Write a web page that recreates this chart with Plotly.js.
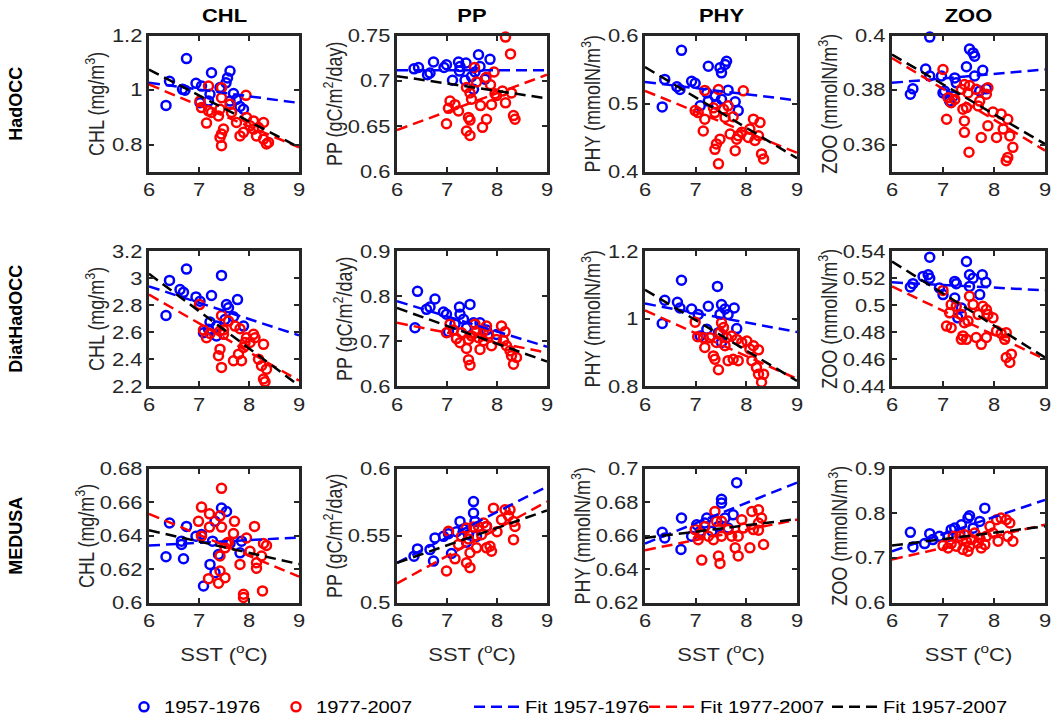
<!DOCTYPE html>
<html>
<head>
<meta charset="utf-8">
<script src="https://cdn.plot.ly/plotly-3.0.1.min.js"></script>
<style>html,body{margin:0;padding:0;background:#fff;}#chart{width:1055px;height:725px;}</style>
</head>
<body>
<div id="chart"></div>
<script>
// ---------------- DATA ----------------
const MODELS = ['HadOCC', 'DiatHadOCC', 'MEDUSA'];
const VARIABLES = ['CHL', 'PP', 'PHY', 'ZOO'];
const Y_TITLES = ['CHL (mg/m<sup>3</sup>)', 'PP (gC/m<sup>2</sup>/day)', 'PHY (mmolN/m<sup>3</sup>)', 'ZOO (mmolN/m<sup>3</sup>)'];
const X_TITLE = 'SST (<sup>o</sup>C)';
const SERIES_NAMES = ['1957-1976', '1977-2007', 'Fit 1957-1976', 'Fit 1977-2007', 'Fit 1957-2007'];
const SST_TICKS = [6, 7, 8, 9];
const FIT_SST = [6, 9];

// HadOCC CHL
const HAD_CHL_B_SST = [6.75,6.41,6.34,6.67,6.72,6.94,7.25,7.62,7.57,7.54,7.69,7.22,7.19,7.02,7.89,7.82,7.62,7.75,7.42,7.05];
const HAD_CHL_B_VAL = [1.116,1.033,0.944,1.003,1.0,1.025,1.064,1.07,1.045,1.027,0.988,0.985,0.96,0.954,0.93,0.94,0.96,0.966,1.01,1.015];
const HAD_CHL_R_SST = [7.19,7.45,7.45,7.94,7.02,7.05,7.19,7.42,7.62,7.65,7.39,7.15,7.75,7.49,7.45,7.42,7.45,7.82,7.89,8.09,8.29,8.19,8.09,8.02,8.15,8.29,8.39,8.35,7.95,7.25];
const HAD_CHL_R_VAL = [1.015,1.009,0.972,0.981,0.96,0.936,0.924,0.93,0.948,0.918,0.905,0.879,0.881,0.857,0.839,0.826,0.796,0.832,0.845,0.887,0.881,0.863,0.857,0.869,0.832,0.82,0.808,0.802,0.9,0.918];
const HAD_CHL_FIT_B = [1.027, 0.953], HAD_CHL_FIT_R = [1.021, 0.79], HAD_CHL_FIT_ALL = [1.076, 0.79];

// HadOCC PP
const HAD_PP_B_SST = [6.34,6.43,6.73,6.66,6.61,6.99,6.94,7.23,7.26,7.25,7.11,7.36,7.63,7.86,7.66,7.49,7.56,7.76,7.38,7.53];
const HAD_PP_B_VAL = [0.7135,0.715,0.721,0.709,0.707,0.718,0.715,0.721,0.716,0.711,0.701,0.701,0.729,0.724,0.716,0.705,0.71,0.702,0.72,0.691];
const HAD_PP_R_SST = [8.17,8.27,7.55,7.94,7.78,7.87,7.59,7.39,7.46,7.49,8.11,8.29,7.99,8.17,7.89,7.67,7.06,7.16,7.23,7.03,7.43,7.46,7.79,6.99,7.39,7.46,7.71,8.33,8.36,7.96];
const HAD_PP_R_VAL = [0.7485,0.730,0.715,0.71,0.704,0.696,0.699,0.693,0.687,0.68,0.689,0.687,0.684,0.676,0.674,0.673,0.678,0.674,0.667,0.67,0.66,0.657,0.658,0.653,0.645,0.64,0.649,0.662,0.658,0.686];
const HAD_PP_FIT_B = [0.712, 0.712], HAD_PP_FIT_R = [0.646, 0.707], HAD_PP_FIT_ALL = [0.7055, 0.681];

// HadOCC PHY
const HAD_PHY_B_SST = [6.72,6.39,6.34,6.63,6.69,6.92,6.99,7.25,7.48,7.51,7.61,7.58,7.64,7.38,7.25,7.09,7.51,7.78,7.84,7.22,7.41];
const HAD_PHY_B_VAL = [0.5786,0.5358,0.4954,0.525,0.521,0.533,0.53,0.5552,0.5528,0.5455,0.5625,0.5577,0.52,0.511,0.504,0.497,0.5066,0.503,0.49,0.516,0.4993];
const HAD_PHY_R_SST = [7.18,7.45,7.94,6.99,7.05,7.18,7.15,7.38,7.55,7.64,7.58,7.74,7.48,7.41,7.38,7.45,7.68,7.84,7.81,7.78,8.04,8.14,8.27,8.07,8.17,8.24,8.30,8.34,7.91,7.35];
const HAD_PHY_R_VAL = [0.5197,0.521,0.519,0.49,0.487,0.4774,0.46,0.487,0.492,0.497,0.48,0.481,0.448,0.441,0.433,0.4117,0.4555,0.453,0.448,0.4311,0.4506,0.4774,0.4725,0.463,0.446,0.453,0.4263,0.419,0.458,0.494];
const HAD_PHY_FIT_B = [0.532, 0.505], HAD_PHY_FIT_R = [0.519, 0.428], HAD_PHY_FIT_ALL = [0.554, 0.42];

// HadOCC ZOO
const HAD_ZOO_B_SST = [6.74,6.36,6.41,6.66,6.74,6.97,7.0,7.03,7.23,7.26,7.46,7.52,7.59,7.62,7.78,7.62,7.85,7.72,7.13,7.20];
const HAD_ZOO_B_VAL = [0.3995,0.3785,0.3805,0.3878,0.3852,0.3852,0.379,0.3797,0.3845,0.3827,0.3886,0.3951,0.3937,0.3925,0.3873,0.3852,0.3805,0.3797,0.376,0.3778];
const HAD_ZOO_R_SST = [7.0,7.10,7.16,7.23,7.07,7.36,7.42,7.52,7.49,7.46,7.42,7.42,7.51,7.65,7.72,7.69,7.88,7.85,7.88,7.75,7.98,8.14,8.27,8.18,8.05,8.31,8.37,8.27,8.24,7.39];
const HAD_ZOO_R_VAL = [0.3876,0.3772,0.3754,0.3766,0.3693,0.3803,0.3821,0.3817,0.379,0.3736,0.3687,0.3645,0.3572,0.3803,0.376,0.3742,0.3809,0.3785,0.3669,0.3626,0.372,0.3712,0.3693,0.3657,0.3626,0.3632,0.359,0.3553,0.3541,0.373];
const HAD_ZOO_FIT_B = [0.3827, 0.3876], HAD_ZOO_FIT_R = [0.3918, 0.3578], HAD_ZOO_FIT_ALL = [0.3931, 0.3602];

// DiatHadOCC CHL
const DIAT_CHL_B_SST = [6.75,6.41,6.34,6.62,6.69,6.94,7.25,7.45,7.55,7.59,7.77,7.69,7.22,7.09,7.19,7.35,7.89,7.52,7.02,7.35];
const DIAT_CHL_B_VAL = [3.068,2.984,2.724,2.916,2.896,2.862,2.872,3.021,2.805,2.781,2.842,2.715,2.676,2.597,2.622,2.573,2.646,2.695,2.83,2.646];
const DIAT_CHL_R_SST = [7.01,7.45,7.59,7.72,7.82,7.09,7.22,7.49,7.49,7.15,8.09,8.12,8.02,8.29,7.89,7.92,7.42,7.39,7.45,7.69,7.85,7.79,8.19,8.25,8.35,8.29,8.32,7.95,7.42];
const DIAT_CHL_R_VAL = [2.805,2.724,2.683,2.646,2.626,2.617,2.592,2.617,2.585,2.56,2.585,2.56,2.524,2.511,2.487,2.524,2.475,2.426,2.34,2.389,2.389,2.438,2.401,2.352,2.327,2.254,2.234,2.56,2.61];
const DIAT_CHL_FIT_B = [2.94, 2.577], DIAT_CHL_FIT_R = [2.879, 2.242], DIAT_CHL_FIT_ALL = [3.033, 2.205];

// DiatHadOCC PP
const DIAT_PP_B_SST = [6.41,6.36,6.76,6.66,6.59,6.93,6.99,7.25,7.26,7.46,7.03,7.39,7.66,7.79,7.99,7.16,7.53,7.33];
const DIAT_PP_B_VAL = [0.811,0.730,0.794,0.776,0.771,0.765,0.760,0.776,0.760,0.782,0.721,0.730,0.741,0.725,0.715,0.738,0.741,0.749];
const DIAT_PP_R_SST = [7.06,7.13,7.19,7.29,7.43,7.39,7.43,7.46,7.56,7.59,7.63,7.66,7.79,7.83,7.73,7.89,7.99,8.09,8.16,8.13,8.19,8.26,8.29,8.33,8.39,7.49,7.26,7.73,6.99];
const DIAT_PP_R_VAL = [0.738,0.725,0.706,0.719,0.704,0.684,0.659,0.647,0.738,0.723,0.708,0.682,0.734,0.716,0.701,0.69,0.704,0.734,0.721,0.701,0.69,0.679,0.668,0.649,0.664,0.712,0.697,0.723,0.719];
const DIAT_PP_FIT_B = [0.789, 0.688], DIAT_PP_FIT_R = [0.741, 0.675], DIAT_PP_FIT_ALL = [0.774, 0.655];

// DiatHadOCC PHY
const DIAT_PHY_B_SST = [6.72,6.34,6.39,6.64,6.69,6.92,7.05,7.25,7.43,7.51,7.58,7.76,7.64,7.48,7.81,7.22,7.45,7.09,7.51];
const DIAT_PHY_B_VAL = [1.114,0.986,1.055,1.049,1.032,1.029,1.013,1.037,1.096,1.042,1.029,1.032,1.013,1.013,0.971,0.969,0.959,0.949,0.93];
const DIAT_PHY_R_SST = [6.99,7.04,7.15,7.18,7.35,7.38,7.45,7.41,7.48,7.51,7.55,7.61,7.71,7.81,7.91,8.01,7.64,7.74,7.84,8.07,8.14,8.24,8.11,8.20,8.24,8.30,8.34,7.58,7.28];
const DIAT_PHY_R_VAL = [0.99,0.947,0.944,0.915,0.89,0.88,0.849,0.93,0.959,0.988,0.974,0.944,0.949,0.939,0.93,0.934,0.876,0.88,0.876,0.91,0.92,0.908,0.876,0.856,0.836,0.812,0.836,0.92,0.944];
const DIAT_PHY_FIT_B = [1.045, 0.961], DIAT_PHY_FIT_R = [1.025, 0.822], DIAT_PHY_FIT_ALL = [1.086, 0.816];

// DiatHadOCC ZOO
const DIAT_ZOO_B_SST = [6.74,6.36,6.41,6.61,6.71,6.74,6.93,7.0,7.23,7.26,7.46,7.52,7.59,7.77,7.84,7.52,7.72,7.23,7.36,7.29];
const DIAT_ZOO_B_VAL = [0.5356,0.5135,0.516,0.5214,0.5226,0.520,0.5128,0.5079,0.5177,0.516,0.5324,0.5226,0.520,0.5226,0.517,0.514,0.5079,0.5054,0.498,0.4907];
const DIAT_ZOO_R_SST = [7.0,7.16,7.13,7.07,7.16,7.36,7.42,7.39,7.36,7.46,7.52,7.59,7.69,7.78,7.85,7.88,7.98,7.65,7.85,7.75,8.05,8.14,8.24,8.21,8.24,8.34,8.31,7.49,7.26];
const DIAT_ZOO_R_VAL = [0.511,0.5005,0.4944,0.4846,0.4834,0.4932,0.4871,0.4773,0.4748,0.4748,0.5067,0.5005,0.4932,0.4993,0.4969,0.4932,0.4907,0.4761,0.4761,0.4711,0.4809,0.4792,0.4797,0.4748,0.4613,0.4638,0.4576,0.4883,0.4993];
const DIAT_ZOO_FIT_B = [0.517, 0.5111], DIAT_ZOO_FIT_R = [0.514, 0.46], DIAT_ZOO_FIT_ALL = [0.5324, 0.4613];

// MEDUSA CHL
const MED_CHL_B_SST = [6.41,6.34,6.69,6.65,6.65,6.75,6.94,7.05,7.27,7.22,7.32,7.09,7.45,7.55,7.39,7.62,7.82,7.85,7.32];
const MED_CHL_B_VAL = [0.6476,0.6275,0.6263,0.6348,0.6368,0.6456,0.6397,0.6407,0.6368,0.6229,0.618,0.610,0.6565,0.6545,0.6288,0.6354,0.6298,0.6368,0.6486];
const MED_CHL_R_SST = [7.45,7.05,7.21,7.42,6.99,7.21,7.45,7.71,8.11,7.69,7.05,7.95,7.59,7.52,8.02,8.29,8.35,8.25,8.15,8.15,7.82,7.42,7.42,7.52,7.19,7.39,7.89,7.89,8.27,7.55];
const MED_CHL_R_VAL = [0.6683,0.6571,0.6531,0.6519,0.6486,0.6452,0.6452,0.6486,0.6456,0.6413,0.6397,0.6387,0.6362,0.6328,0.6308,0.6354,0.6342,0.6279,0.6239,0.6206,0.6229,0.6279,0.619,0.615,0.6144,0.6117,0.6051,0.6032,0.6071,0.6354];
const MED_CHL_FIT_B = [0.6342, 0.639], MED_CHL_FIT_R = [0.6531, 0.6156], MED_CHL_FIT_ALL = [0.6433, 0.6231];

// MEDUSA PP
const MED_PP_B_SST = [6.34,6.41,6.66,6.73,6.76,6.93,7.03,7.09,7.26,7.33,7.39,7.53,7.53,7.56,7.43,7.79,7.59,7.19];
const MED_PP_B_VAL = [0.5348,0.5402,0.5397,0.5311,0.5484,0.5496,0.5516,0.5368,0.5607,0.555,0.5452,0.5755,0.5669,0.5607,0.5508,0.557,0.5496,0.553];
const MED_PP_R_SST = [6.99,7.03,7.16,7.39,7.43,7.46,7.39,7.46,7.53,7.63,7.69,7.79,7.79,7.86,7.89,7.93,8.09,8.16,8.26,8.23,8.33,8.36,8.33,7.59,7.23,8.0,7.73,7.29];
const MED_PP_R_VAL = [0.5237,0.5533,0.5328,0.5558,0.5476,0.5373,0.5299,0.5262,0.5565,0.557,0.5508,0.557,0.541,0.5422,0.5385,0.5706,0.562,0.5694,0.5694,0.5649,0.5607,0.557,0.5471,0.541,0.5434,0.553,0.5595,0.5496];
const MED_PP_FIT_B = [0.5298, 0.5867], MED_PP_FIT_R = [0.5145, 0.5755], MED_PP_FIT_ALL = [0.5298, 0.5689];

// MEDUSA PHY
const MED_PHY_B_SST = [6.34,6.39,6.72,6.71,6.92,7.02,7.22,7.18,7.51,7.51,7.45,7.58,7.74,7.81,7.09,7.64,7.32];
const MED_PHY_B_VAL = [0.6621,0.6587,0.6706,0.6518,0.6597,0.6666,0.6706,0.6676,0.6818,0.6795,0.6656,0.6706,0.6725,0.6917,0.6627,0.6646,0.6627];
const MED_PHY_R_SST = [6.99,7.09,7.05,7.18,7.25,7.38,7.41,7.35,7.51,7.51,7.64,7.71,7.84,7.91,8.11,8.24,8.30,8.24,8.14,8.24,7.12,7.45,7.48,7.78,7.84,8.07,8.34,7.94];
const MED_PHY_R_VAL = [0.6637,0.6613,0.6577,0.6656,0.6597,0.6745,0.6686,0.6577,0.6686,0.6597,0.6637,0.6597,0.6597,0.6696,0.6745,0.6755,0.6706,0.6676,0.6637,0.6633,0.6455,0.6479,0.6435,0.6528,0.6479,0.6528,0.6548,0.6646];
const MED_PHY_FIT_B = [0.6554, 0.6917], MED_PHY_FIT_R = [0.6514, 0.6696], MED_PHY_FIT_ALL = [0.6587, 0.67];

// MEDUSA ZOO
const MED_ZOO_B_SST = [6.36,6.41,6.74,6.64,6.93,7.16,7.23,7.36,7.49,7.52,7.82,7.72,7.33,7.10,7.59,6.80];
const MED_ZOO_B_VAL = [0.7577,0.7251,0.7548,0.7325,0.7488,0.7637,0.7674,0.7748,0.7896,0.7948,0.8118,0.7822,0.7563,0.7488,0.767,0.7414];
const MED_ZOO_R_SST = [7.0,7.1,7.16,7.33,7.42,7.49,7.52,7.62,7.69,7.75,7.82,7.92,8.05,8.14,8.24,8.31,8.27,8.37,8.08,7.85,7.26,7.39,7.56,7.2,7.98,7.72,7.46];
const MED_ZOO_R_VAL = [0.7281,0.7229,0.7325,0.7488,0.7525,0.7155,0.7266,0.7563,0.734,0.7229,0.7303,0.7711,0.7859,0.7896,0.7859,0.7785,0.7488,0.7377,0.7377,0.7488,0.7266,0.7192,0.7414,0.7488,0.7563,0.7451,0.7377];
const MED_ZOO_FIT_B = [0.7155, 0.8303], MED_ZOO_FIT_R = [0.697, 0.7748], MED_ZOO_FIT_ALL = [0.7281, 0.7711];

// y-axis ranges and tick labels, per panel (row-major)
const Y_RANGES = [[0.7,1.2],[0.6,0.75],[0.4,0.6],[0.35,0.4],
                  [2.2,3.2],[0.6,0.9],[0.8,1.2],[0.44,0.54],
                  [0.6,0.68],[0.5,0.6],[0.62,0.7],[0.6,0.9]];
const Y_TICKS = [['0.8','1','1.2'],['0.6','0.65','0.7','0.75'],['0.4','0.5','0.6'],['0.36','0.38','0.4'],
                 ['2.2','2.4','2.6','2.8','3','3.2'],['0.6','0.7','0.8','0.9'],['0.8','1','1.2'],['0.44','0.46','0.48','0.5','0.52','0.54'],
                 ['0.6','0.62','0.64','0.66','0.68'],['0.5','0.55','0.6'],['0.62','0.64','0.66','0.68','0.7'],['0.6','0.7','0.8','0.9']];

const PANELS = [
  [HAD_CHL_B_SST,HAD_CHL_B_VAL,HAD_CHL_R_SST,HAD_CHL_R_VAL,HAD_CHL_FIT_B,HAD_CHL_FIT_R,HAD_CHL_FIT_ALL],
  [HAD_PP_B_SST,HAD_PP_B_VAL,HAD_PP_R_SST,HAD_PP_R_VAL,HAD_PP_FIT_B,HAD_PP_FIT_R,HAD_PP_FIT_ALL],
  [HAD_PHY_B_SST,HAD_PHY_B_VAL,HAD_PHY_R_SST,HAD_PHY_R_VAL,HAD_PHY_FIT_B,HAD_PHY_FIT_R,HAD_PHY_FIT_ALL],
  [HAD_ZOO_B_SST,HAD_ZOO_B_VAL,HAD_ZOO_R_SST,HAD_ZOO_R_VAL,HAD_ZOO_FIT_B,HAD_ZOO_FIT_R,HAD_ZOO_FIT_ALL],
  [DIAT_CHL_B_SST,DIAT_CHL_B_VAL,DIAT_CHL_R_SST,DIAT_CHL_R_VAL,DIAT_CHL_FIT_B,DIAT_CHL_FIT_R,DIAT_CHL_FIT_ALL],
  [DIAT_PP_B_SST,DIAT_PP_B_VAL,DIAT_PP_R_SST,DIAT_PP_R_VAL,DIAT_PP_FIT_B,DIAT_PP_FIT_R,DIAT_PP_FIT_ALL],
  [DIAT_PHY_B_SST,DIAT_PHY_B_VAL,DIAT_PHY_R_SST,DIAT_PHY_R_VAL,DIAT_PHY_FIT_B,DIAT_PHY_FIT_R,DIAT_PHY_FIT_ALL],
  [DIAT_ZOO_B_SST,DIAT_ZOO_B_VAL,DIAT_ZOO_R_SST,DIAT_ZOO_R_VAL,DIAT_ZOO_FIT_B,DIAT_ZOO_FIT_R,DIAT_ZOO_FIT_ALL],
  [MED_CHL_B_SST,MED_CHL_B_VAL,MED_CHL_R_SST,MED_CHL_R_VAL,MED_CHL_FIT_B,MED_CHL_FIT_R,MED_CHL_FIT_ALL],
  [MED_PP_B_SST,MED_PP_B_VAL,MED_PP_R_SST,MED_PP_R_VAL,MED_PP_FIT_B,MED_PP_FIT_R,MED_PP_FIT_ALL],
  [MED_PHY_B_SST,MED_PHY_B_VAL,MED_PHY_R_SST,MED_PHY_R_VAL,MED_PHY_FIT_B,MED_PHY_FIT_R,MED_PHY_FIT_ALL],
  [MED_ZOO_B_SST,MED_ZOO_B_VAL,MED_ZOO_R_SST,MED_ZOO_R_VAL,MED_ZOO_FIT_B,MED_ZOO_FIT_R,MED_ZOO_FIT_ALL]
];

// ---------------- STYLE / LAYOUT ----------------
const W = 1055, H = 725;
const FONT = '"Liberation Sans", Arial, Helvetica, sans-serif';
const INK = '#262626';
const BLUE = '#0000ff', RED = '#ff0000', BLACK = '#000000';
const COL_L = [149, 397, 645, 892], COL_R = [299, 547, 797, 1045];
const ROW_T = [36, 253, 472], ROW_B = [173, 389, 607];
const DASH = '11px,6px';
const TEXT_STRETCH = 1.22; // reference text is drawn horizontally widened

const traces = [];
const layout = {
  width: W, height: H,
  margin: {l: 0, r: 0, t: 0, b: 0},
  paper_bgcolor: '#ffffff', plot_bgcolor: '#ffffff',
  font: {family: FONT, size: 18, color: INK},
  showlegend: true,
  annotations: []
};

const axCommon = {
  showline: true, mirror: 'ticks', linecolor: INK, linewidth: 3,
  ticks: 'inside', ticklen: 5, tickwidth: 2, tickcolor: INK,
  showgrid: false, zeroline: false, fixedrange: true,
  tickfont: {family: FONT, size: 18, color: INK}
};

const legendIds = ['legend', 'legend2', 'legend3', 'legend4', 'legend5'];

PANELS.forEach((p, i) => {
  const r = Math.floor(i / 4), c = i % 4;
  const n = i + 1;
  const xa = n === 1 ? 'x' : 'x' + n;
  const ya = n === 1 ? 'y' : 'y' + n;
  const xkey = n === 1 ? 'xaxis' : 'xaxis' + n;
  const ykey = n === 1 ? 'yaxis' : 'yaxis' + n;
  const first = i === 0;

  traces.push({type: 'scatter', mode: 'markers', x: p[0], y: p[1], xaxis: xa, yaxis: ya,
    name: SERIES_NAMES[0], legend: legendIds[0], showlegend: first, cliponaxis: false,
    marker: {symbol: 'circle-open', size: 9, color: BLUE, line: {width: 2.5, color: BLUE}}, hoverinfo: 'skip'});
  traces.push({type: 'scatter', mode: 'markers', x: p[2], y: p[3], xaxis: xa, yaxis: ya,
    name: SERIES_NAMES[1], legend: legendIds[1], showlegend: first, cliponaxis: false,
    marker: {symbol: 'circle-open', size: 9, color: RED, line: {width: 2.5, color: RED}}, hoverinfo: 'skip'});
  [[p[4], BLUE, 2], [p[5], RED, 3], [p[6], BLACK, 4]].forEach(([fy, col, k]) => {
    traces.push({type: 'scatter', mode: 'lines', x: FIT_SST, y: fy, xaxis: xa, yaxis: ya,
      name: SERIES_NAMES[k], legend: legendIds[k], showlegend: first,
      line: {color: col, width: 2.5, dash: DASH}, hoverinfo: 'skip'});
  });

  const xax = Object.assign({}, axCommon, {
    domain: [COL_L[c] / W, COL_R[c] / W], anchor: ya, range: [6, 9],
    tickvals: SST_TICKS, ticktext: SST_TICKS.map(String)
  });
  if (r === 2) xax.title = {text: X_TITLE, font: {family: FONT, size: 18, color: INK}, standoff: 18};
  layout[xkey] = xax;
  layout[ykey] = Object.assign({}, axCommon, {
    domain: [1 - ROW_B[r] / H, 1 - ROW_T[r] / H], anchor: xa, range: Y_RANGES[i],
    tickvals: Y_TICKS[i].map(Number), ticktext: Y_TICKS[i],
    title: {text: Y_TITLES[c], font: {family: FONT, size: 18, color: INK}, standoff: 10}
  });
});

// column titles
VARIABLES.forEach((v, c) => {
  layout.annotations.push({text: '<b>' + v + '</b>', xref: 'paper', yref: 'paper',
    x: (COL_L[c] + COL_R[c]) / 2 / W, y: 1 - 16 / H, xanchor: 'center', yanchor: 'middle',
    showarrow: false, font: {family: FONT, size: 18, color: BLACK}});
});
// row labels
MODELS.forEach((m, r) => {
  layout.annotations.push({text: '<b>' + m + '</b>', xref: 'paper', yref: 'paper',
    x: 16 / W, y: 1 - (ROW_T[r] + ROW_B[r]) / 2 / H, xanchor: 'center', yanchor: 'middle',
    textangle: -90, showarrow: false, font: {family: FONT, size: 18, color: BLACK}});
});

// five single-entry legends along the bottom
const LEG_X = [124, 276, 469, 644, 827];
legendIds.forEach((id, k) => {
  layout[id] = {x: LEG_X[k] / W, y: 1 - 712 / H, xanchor: 'left', yanchor: 'middle',
    orientation: 'h', bgcolor: 'rgba(0,0,0,0)', borderwidth: 0,
    font: {family: FONT, size: 16.5, color: BLACK}, itemwidth: k < 2 ? 30 : 46};
});

Plotly.newPlot('chart', traces, layout, {displayModeBar: false, staticPlot: true}).then(gd => {
  // drop empty placeholder texts
  gd.querySelectorAll('svg.main-svg text').forEach(t => { if (!t.textContent.trim()) t.remove(); });
  // legends: let the widened text run past each legend box
  gd.querySelectorAll('.infolayer [clip-path], .infolayer[clip-path]').forEach(e => e.removeAttribute('clip-path'));
  gd.querySelectorAll('[clip-path]').forEach(e => {
    if (/legend/i.test(e.getAttribute('clip-path'))) e.removeAttribute('clip-path');
  });
  // widen text horizontally about its anchor, as in the reference figure
  gd.querySelectorAll('svg.main-svg text').forEach(t => {
    const pm = t.parentNode.getCTM ? t.parentNode.getCTM() : null;
    if (!pm || Math.abs(pm.b) > 1e-6 || Math.abs(pm.c) > 1e-6) return;
    const svgEl = t.ownerSVGElement;
    const sr = svgEl.getBoundingClientRect();
    const rc = t.getBoundingClientRect();
    const tr = t.getAttribute('transform') || '';
    const anchor = t.getAttribute('text-anchor') || 'start';
    let ax;
    if (/rotate/.test(tr) || anchor === 'middle') ax = (rc.left + rc.right) / 2;
    else if (anchor === 'end') ax = rc.right;
    else ax = rc.left;
    const axp = (ax - sr.left - pm.e) / pm.a;
    t.setAttribute('transform', 'translate(' + axp + ',0) scale(' + TEXT_STRETCH + ',1) translate(' + (-axp) + ',0) ' + tr);
  });
});
</script>
</body>
</html>
